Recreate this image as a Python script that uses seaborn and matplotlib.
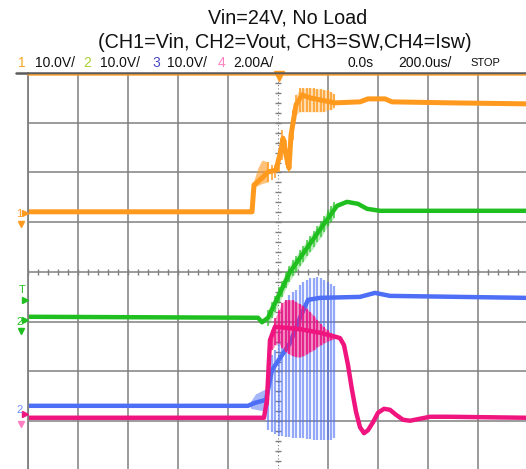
import numpy as np
import pandas as pd
import matplotlib
matplotlib.use("Agg")
import matplotlib.pyplot as plt
import seaborn as sns
from matplotlib.lines import Line2D

# ---------------- data (time in us, amplitude in screen divisions) ----------------
# switching instants (shared by ripple on all channels)
sw_t = [-40, -24, -12, 4, 16, 32, 44, 60, 72, 88, 100, 116, 128, 144, 156, 172, 184, 200, 212, 224]

# CH1 Vin (orange)
ch1_t = [-1000, -104, -96, -64, -40, -8, 12, 20, 32, 44, 52, 72, 96, 128, 168, 228, 328, 360, 428, 456, 688, 992]
ch1_y = [1.21, 1.21, 1.75, 1.89, 2.01, 2.05, 2.45, 2.69, 2.35, 2.09, 2.75, 3.36, 3.56, 3.50, 3.46, 3.40, 3.42, 3.48, 3.48, 3.42, 3.40, 3.38]
ch1_noise_t = [-96, -80, -64, -40]
ch1_noise_hi = [1.85, 2.10, 2.25, 2.21]
ch1_noise_lo = [1.70, 1.74, 1.78, 1.81]
ch1_sw_hi = [2.21, 2.15, 2.15, 2.45, 2.85, 2.65, 2.45, 3.26, 3.56, 3.70, 3.70, 3.70, 3.70, 3.70, 3.68, 3.68, 3.66, 3.66, 3.62, 3.58]
ch1_sw_lo = [1.81, 1.85, 1.89, 2.01, 2.25, 2.15, 2.01, 2.65, 3.16, 3.22, 3.22, 3.22, 3.22, 3.22, 3.22, 3.22, 3.22, 3.26, 3.26, 3.30]

# CH2 Vout (green)
ch2_t = [-1000, -80, -64, -40, 48, 196, 236, 276, 320, 356, 408, 992]
ch2_y = [-0.90, -0.92, -1.01, -0.92, 0.00, 1.05, 1.33, 1.41, 1.37, 1.27, 1.23, 1.23]
ch2_sw_hi = [-0.76, -0.60, -0.48, -0.30, -0.18, 0.00, 0.12, 0.24, 0.32, 0.44, 0.52, 0.64, 0.72, 0.82, 0.92, 1.02, 1.12, 1.25, 1.33, 1.41]
ch2_sw_lo = [-1.08, -0.92, -0.80, -0.62, -0.50, -0.32, -0.20, -0.08, 0.00, 0.12, 0.20, 0.32, 0.40, 0.50, 0.60, 0.70, 0.80, 0.93, 1.01, 1.09]

# CH3 SW (blue)
ch3_t = [-1000, -120, -92, -48, -24, 48, 88, 120, 168, 328, 388, 448, 992]
ch3_y = [-2.69, -2.69, -2.63, -2.57, -1.97, -1.43, -0.92, -0.56, -0.52, -0.50, -0.42, -0.48, -0.52]
ch3_noise_t = [-110, -90, -70, -50]
ch3_noise_hi = [-2.60, -2.45, -2.40, -2.35]
ch3_noise_lo = [-2.74, -2.76, -2.78, -2.80]
ch3_sw_top = [-1.77, -1.67, -1.57, -1.17, -0.76, -0.56, -0.46, -0.40, -0.36, -0.26, -0.20, -0.16,
              -0.12, -0.12, -0.10, -0.12, -0.16, -0.20, -0.24, -0.28]
ch3_sw_bot = [-3.18, -3.22, -3.26, -3.30, -3.30, -3.32, -3.32, -3.34, -3.34, -3.34, -3.34, -3.36,
              -3.36, -3.38, -3.38, -3.38, -3.38, -3.38, -3.38, -3.34]

# CH4 Isw (pink)
ch4_t = [-1000, -56, -44, -32, -12, 88, 168, 236, 248, 264, 280, 296, 312, 328, 344, 360, 380, 400,
         424, 448, 472, 500, 528, 568, 608, 688, 992]
ch4_y = [-2.93, -2.93, -2.57, -1.37, -1.10, -1.15, -1.22, -1.31, -1.33, -1.47, -1.87, -2.37, -2.81,
         -3.12, -3.24, -3.18, -3.02, -2.83, -2.75, -2.77, -2.87, -2.97, -2.99, -2.95, -2.91, -2.91, -2.93]
ch4_sw_hi = [-2.37, -1.17, -0.92, -0.76, -0.62, -0.56, -0.56, -0.56, -0.60, -0.64, -0.68, -0.74,
             -0.80, -0.88, -0.96, -1.05, -1.11, -1.17, -1.23, -1.27]
ch4_sw_lo = [-2.67, -1.57, -1.47, -1.43, -1.53, -1.61, -1.65, -1.69, -1.71, -1.71, -1.69, -1.65,
             -1.61, -1.57, -1.51, -1.47, -1.43, -1.39, -1.37, -1.35]

title1 = "Vin=24V, No Load"
title2 = "(CH1=Vin, CH2=Vout, CH3=SW,CH4=Isw)"
status_labels = ["1", "10.0V/", "2", "10.0V/", "3", "10.0V/", "4", "2.00A/", "0.0s", "200.0us/", "STOP"]

C_OR = "#ff9a1f"
C_GR = "#1fbf1f"
C_BL = "#4d6ef5"
C_PK = "#f0147f"
C_GRID = "#808080"

# ---------------- figure ----------------
sns.set_theme(style="white")
plt.rcParams["font.family"] = ["Liberation Sans", "DejaVu Sans"]

W, H = 526, 469
fig = plt.figure(figsize=(W / 100, H / 100), dpi=100)
fig.patch.set_facecolor("white")
ax = fig.add_axes([28 / W, 0, 498 / W, 396 / H])
ax.set_xlim(-1000, 992)
ax.set_ylim(-3.96, 4.0)
for s in ax.spines.values():
    s.set_visible(False)
ax.set_xticks([])
ax.set_yticks([])

# graticule
for xv in range(-1000, 1000, 200):
    if xv == 0:
        continue
    ax.axvline(xv, color=C_GRID, lw=1.1, zorder=1)
for yv in [-3, -2, -1, 0, 1, 2, 3]:
    ax.axhline(yv, color=C_GRID, lw=1.1, zorder=1)
ax.axvline(0, color=C_GRID, lw=0.8, ls=(0, (1, 2)), zorder=1)
minor_x = np.arange(-1000, 1000, 40)
ax.plot(minor_x, np.zeros_like(minor_x), ls="none", marker="|", ms=5, mew=1, color=C_GRID, zorder=1)
minor_y = np.arange(-3.8, 4.0, 0.2)
ax.plot(np.zeros_like(minor_y), minor_y, ls="none", marker="_", ms=5, mew=1, color=C_GRID, zorder=1)

df1 = pd.DataFrame({"t": ch1_t, "v": ch1_y})
df2 = pd.DataFrame({"t": ch2_t, "v": ch2_y})
df3 = pd.DataFrame({"t": ch3_t, "v": ch3_y})
df4 = pd.DataFrame({"t": ch4_t, "v": ch4_y})

# CH1
ax.fill_between(ch1_noise_t, ch1_noise_lo, ch1_noise_hi, color=C_OR, alpha=0.6, lw=0, zorder=3)
ax.fill_between(sw_t[8:], ch1_sw_lo[8:], ch1_sw_hi[8:], color=C_OR, alpha=0.35, lw=0, zorder=3)
sns.lineplot(data=df1, x="t", y="v", ax=ax, color=C_OR, lw=3.6, zorder=4, legend=False)
ax.vlines(sw_t, ch1_sw_lo, ch1_sw_hi, color=C_OR, lw=1.2, alpha=0.9, zorder=4)

# CH2
ax.fill_between(sw_t, ch2_sw_lo, ch2_sw_hi, color=C_GR, alpha=0.3, lw=0, zorder=3)
sns.lineplot(data=df2, x="t", y="v", ax=ax, color=C_GR, lw=3.2, zorder=4, legend=False)
ax.vlines(sw_t, ch2_sw_lo, ch2_sw_hi, color=C_GR, lw=1.1, alpha=0.8, zorder=4)

# CH3
ax.fill_between(ch3_noise_t, ch3_noise_lo, ch3_noise_hi, color=C_BL, alpha=0.5, lw=0, zorder=5)
ax.vlines(sw_t, ch3_sw_bot, ch3_sw_top, color=C_BL, alpha=0.6, lw=1.6, zorder=5)
sns.lineplot(data=df3, x="t", y="v", ax=ax, color=C_BL, lw=3.2, zorder=5, legend=False)

# CH4
sns.lineplot(data=df4, x="t", y="v", ax=ax, color=C_PK, lw=3.2, zorder=6, legend=False)
ax.fill_between(sw_t[1:], ch4_sw_lo[1:], ch4_sw_hi[1:], color=C_PK, alpha=0.45, lw=0, zorder=6)
ax.vlines(sw_t, ch4_sw_lo, ch4_sw_hi, color=C_PK, lw=1.5, alpha=0.8, zorder=6)

ax.set_xlabel("")
ax.set_ylabel("")

# trigger marker on top
ax.plot([4], [3.93], marker="v", ms=7, color=C_OR, clip_on=False, zorder=8)

def fx(x):
    return x / W

def fy(y):
    return 1 - y / H

# borders
fig.add_artist(Line2D([fx(28), fx(28)], [fy(73), fy(469)], color=C_GRID, lw=1.3))
fig.add_artist(Line2D([fx(16), fx(526)], [fy(73), fy(73)], color="#5a5a5a", lw=1.8))
fig.add_artist(Line2D([fx(28), fx(526)], [fy(75), fy(75)], color=C_OR, lw=1.2, alpha=0.8))

# titles
fig.text(fx(288), fy(18), title1, ha="center", va="center", fontsize=14.2, color="#111111")
fig.text(fx(285), fy(42), title2, ha="center", va="center", fontsize=14.2, color="#111111")

# status line
st_x = [18, 35, 83, 100, 152, 167, 218, 233, 347, 398, 470]
st_c = ["#f5a623", "#111111", "#a8d030", "#111111", "#4848c8", "#111111", "#ff80c0", "#111111",
        "#111111", "#111111", "#111111"]
st_fs = [10, 10, 10, 10, 10, 10, 10, 10, 10, 10, 8]
for lab, xx, cc, fs in zip(status_labels, st_x, st_c, st_fs):
    fig.text(fx(xx), fy(63), lab, ha="left", va="center", fontsize=fs, color=cc)

# channel markers on the left
def marker(x, y, m, c, ms):
    fig.add_artist(Line2D([fx(x)], [fy(y)], marker=m, ms=ms, color=c, ls="none"))

fig.text(fx(16), fy(214), "1", ha="left", va="center", fontsize=8, color=C_OR)
marker(25, 213, ">", C_OR, 4)
marker(21, 224, "v", C_OR, 4)
fig.text(fx(22), fy(290), "T", ha="center", va="center", fontsize=8, color=C_GR)
marker(25, 300, ">", C_GR, 5)
fig.text(fx(16), fy(322), "2", ha="left", va="center", fontsize=8, color=C_GR)
marker(25, 320, ">", C_GR, 4)
marker(21, 331, "v", C_GR, 4)
fig.text(fx(16), fy(410), "2", ha="left", va="center", fontsize=8, color=C_BL, alpha=0.8)
marker(25, 414, ">", C_PK, 4)
marker(21, 424, "v", "#ff80c0", 4)

fig.savefig("out.png", dpi=100, facecolor="white")
